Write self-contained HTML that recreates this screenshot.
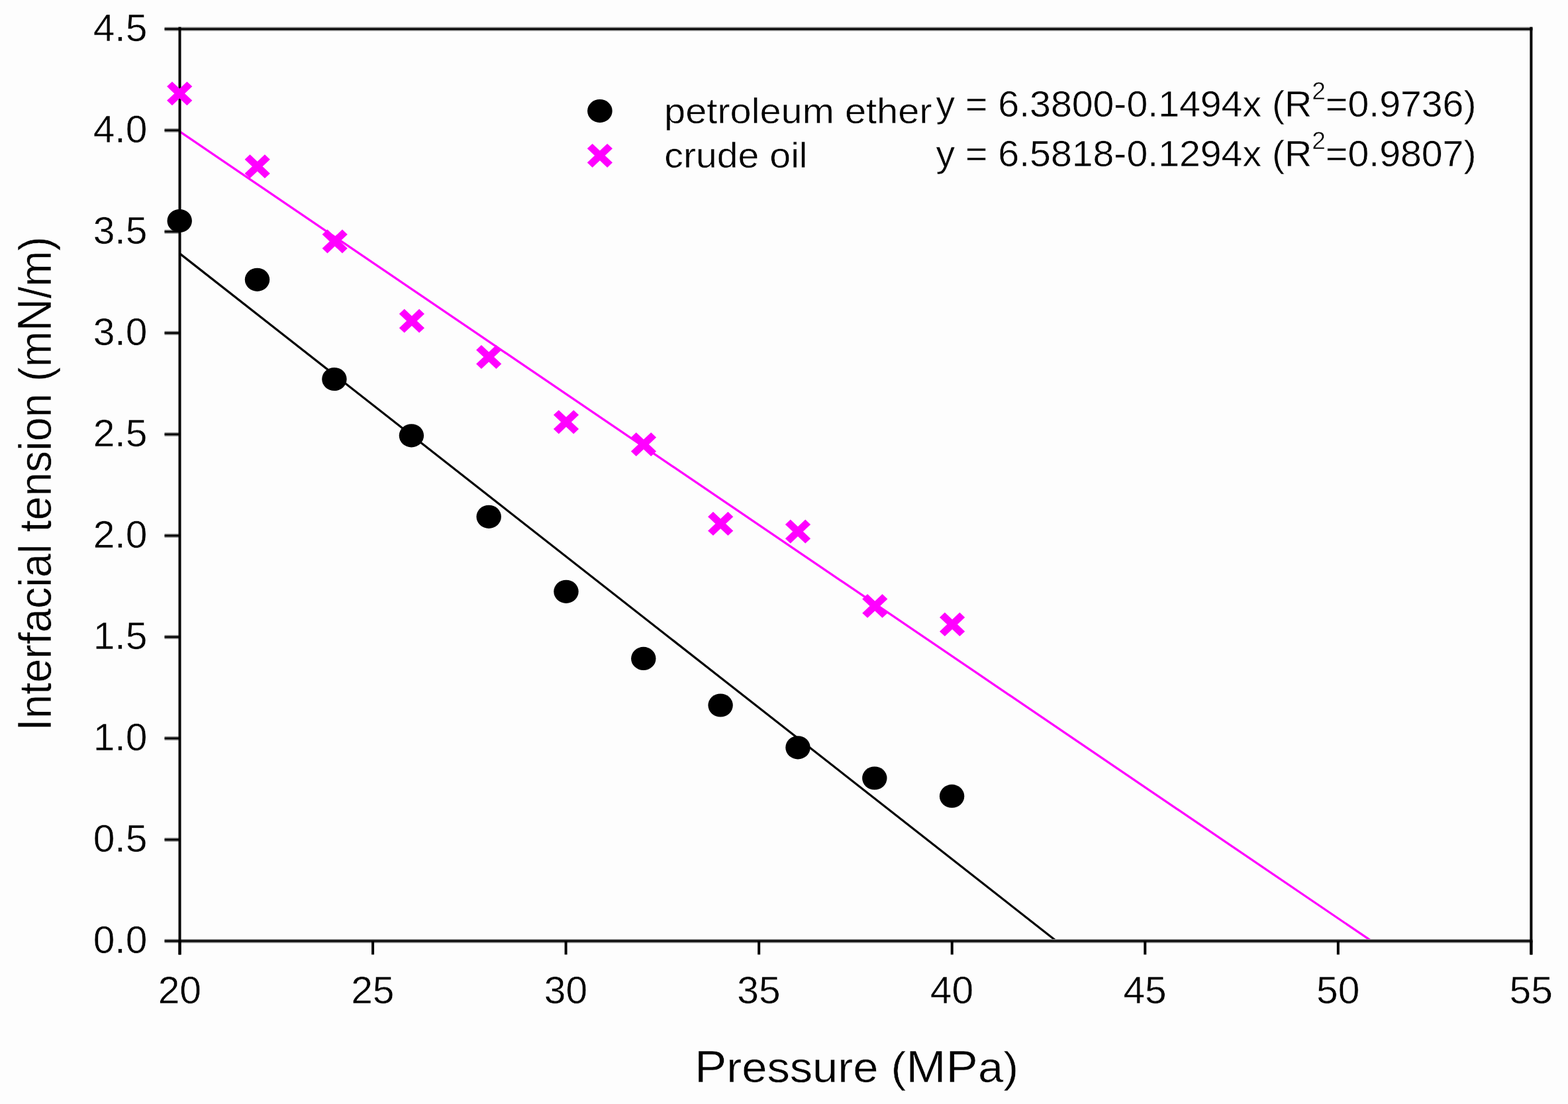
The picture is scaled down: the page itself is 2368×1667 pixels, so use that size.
<!DOCTYPE html>
<html><head><meta charset="utf-8"><title>Interfacial tension vs Pressure</title>
<style>html,body{margin:0;padding:0;background:#fdfdfd;width:2368px;height:1667px;overflow:hidden} svg{display:block}</style>
</head><body>
<svg width="2368" height="1667" viewBox="0 0 2368 1667">
<rect x="0" y="0" width="2368" height="1667" fill="#fdfdfd"/>
<line x1="271.5" y1="382.87" x2="1595.41" y2="1420.9" stroke="#000" stroke-width="3.2"/>
<line x1="271.5" y1="198.71" x2="2071.22" y2="1420.9" stroke="#f0f" stroke-width="3.3"/>
<g fill="none" stroke="#8c8c8c" stroke-width="6">
<line x1="269.50" y1="43.80" x2="2314.40" y2="43.80"/>
<line x1="269.50" y1="1420.90" x2="2314.40" y2="1420.90"/>
<line x1="248.50" y1="1420.90" x2="271.50" y2="1420.90"/>
<line x1="248.50" y1="1267.89" x2="271.50" y2="1267.89"/>
<line x1="248.50" y1="1114.88" x2="271.50" y2="1114.88"/>
<line x1="248.50" y1="961.87" x2="271.50" y2="961.87"/>
<line x1="248.50" y1="808.86" x2="271.50" y2="808.86"/>
<line x1="248.50" y1="655.84" x2="271.50" y2="655.84"/>
<line x1="248.50" y1="502.83" x2="271.50" y2="502.83"/>
<line x1="248.50" y1="349.82" x2="271.50" y2="349.82"/>
<line x1="248.50" y1="196.81" x2="271.50" y2="196.81"/>
<line x1="248.50" y1="43.80" x2="271.50" y2="43.80"/>
</g>
<g fill="none" stroke="#000" stroke-width="2.8">
<line x1="269.50" y1="43.80" x2="2314.40" y2="43.80"/>
<line x1="269.50" y1="1420.90" x2="2314.40" y2="1420.90"/>
<line x1="248.50" y1="1420.90" x2="271.50" y2="1420.90"/>
<line x1="248.50" y1="1267.89" x2="271.50" y2="1267.89"/>
<line x1="248.50" y1="1114.88" x2="271.50" y2="1114.88"/>
<line x1="248.50" y1="961.87" x2="271.50" y2="961.87"/>
<line x1="248.50" y1="808.86" x2="271.50" y2="808.86"/>
<line x1="248.50" y1="655.84" x2="271.50" y2="655.84"/>
<line x1="248.50" y1="502.83" x2="271.50" y2="502.83"/>
<line x1="248.50" y1="349.82" x2="271.50" y2="349.82"/>
<line x1="248.50" y1="196.81" x2="271.50" y2="196.81"/>
<line x1="248.50" y1="43.80" x2="271.50" y2="43.80"/>
</g>
<g stroke="#000" fill="none" stroke-width="4">
<line x1="271.5" y1="40.8" x2="271.5" y2="1441.4"/>
<line x1="2312.4" y1="40.8" x2="2312.4" y2="1441.4"/>
<line x1="271.50" y1="1420.9" x2="271.50" y2="1441.4"/>
<line x1="563.06" y1="1420.9" x2="563.06" y2="1441.4"/>
<line x1="854.61" y1="1420.9" x2="854.61" y2="1441.4"/>
<line x1="1146.17" y1="1420.9" x2="1146.17" y2="1441.4"/>
<line x1="1437.73" y1="1420.9" x2="1437.73" y2="1441.4"/>
<line x1="1729.29" y1="1420.9" x2="1729.29" y2="1441.4"/>
<line x1="2020.84" y1="1420.9" x2="2020.84" y2="1441.4"/>
<line x1="2312.40" y1="1420.9" x2="2312.40" y2="1441.4"/>
</g>
<g font-family="'Liberation Sans', Arial, sans-serif" font-size="56.5" fill="#000" stroke="#fdfdfd" stroke-width="0.5">
<text transform="translate(222.3,1438.70) scale(1.04,1)" text-anchor="end">0.0</text>
<text transform="translate(222.3,1285.69) scale(1.04,1)" text-anchor="end">0.5</text>
<text transform="translate(222.3,1132.68) scale(1.04,1)" text-anchor="end">1.0</text>
<text transform="translate(222.3,979.67) scale(1.04,1)" text-anchor="end">1.5</text>
<text transform="translate(222.3,826.66) scale(1.04,1)" text-anchor="end">2.0</text>
<text transform="translate(222.3,673.64) scale(1.04,1)" text-anchor="end">2.5</text>
<text transform="translate(222.3,520.63) scale(1.04,1)" text-anchor="end">3.0</text>
<text transform="translate(222.3,367.62) scale(1.04,1)" text-anchor="end">3.5</text>
<text transform="translate(222.3,214.61) scale(1.04,1)" text-anchor="end">4.0</text>
<text transform="translate(222.3,61.60) scale(1.04,1)" text-anchor="end">4.5</text>
<text transform="translate(271.30,1514.8) scale(1.04,1)" text-anchor="middle">20</text>
<text transform="translate(562.86,1514.8) scale(1.04,1)" text-anchor="middle">25</text>
<text transform="translate(854.41,1514.8) scale(1.04,1)" text-anchor="middle">30</text>
<text transform="translate(1145.97,1514.8) scale(1.04,1)" text-anchor="middle">35</text>
<text transform="translate(1437.53,1514.8) scale(1.04,1)" text-anchor="middle">40</text>
<text transform="translate(1729.09,1514.8) scale(1.04,1)" text-anchor="middle">45</text>
<text transform="translate(2020.64,1514.8) scale(1.04,1)" text-anchor="middle">50</text>
<text transform="translate(2312.20,1514.8) scale(1.04,1)" text-anchor="middle">55</text>
</g>
<text font-family="'Liberation Sans', Arial, sans-serif" stroke="#fdfdfd" stroke-width="0.5" font-size="65.3" transform="translate(1293.5,1633.9) scale(1.052,1)" text-anchor="middle"><tspan font-size="68.89">P</tspan>ressure (<tspan font-size="68.89">MP</tspan>a)</text>
<text font-family="'Liberation Sans', Arial, sans-serif" stroke="#fdfdfd" stroke-width="0.5" font-size="65.3" transform="translate(77.1,730.5) rotate(-90) scale(0.9946,1.06)" text-anchor="middle"><tspan font-size="68.89">I</tspan>nterfacial tension (m<tspan font-size="68.89">N</tspan>/m)</text>
<path transform="translate(271.20,141.20) scale(1.06,1)" d="M-14.3,-14.3L14.3,14.3M-14.3,14.3L14.3,-14.3" stroke="#f0f" stroke-width="10.5" fill="none"/>
<path transform="translate(388.70,251.30) scale(1.06,1)" d="M-14.3,-14.3L14.3,14.3M-14.3,14.3L14.3,-14.3" stroke="#f0f" stroke-width="10.5" fill="none"/>
<path transform="translate(505.70,364.50) scale(1.06,1)" d="M-14.3,-14.3L14.3,14.3M-14.3,14.3L14.3,-14.3" stroke="#f0f" stroke-width="10.5" fill="none"/>
<path transform="translate(621.90,484.60) scale(1.06,1)" d="M-14.3,-14.3L14.3,14.3M-14.3,14.3L14.3,-14.3" stroke="#f0f" stroke-width="10.5" fill="none"/>
<path transform="translate(738.20,539.00) scale(1.06,1)" d="M-14.3,-14.3L14.3,14.3M-14.3,14.3L14.3,-14.3" stroke="#f0f" stroke-width="10.5" fill="none"/>
<path transform="translate(855.00,637.20) scale(1.06,1)" d="M-14.3,-14.3L14.3,14.3M-14.3,14.3L14.3,-14.3" stroke="#f0f" stroke-width="10.5" fill="none"/>
<path transform="translate(972.00,671.00) scale(1.06,1)" d="M-14.3,-14.3L14.3,14.3M-14.3,14.3L14.3,-14.3" stroke="#f0f" stroke-width="10.5" fill="none"/>
<path transform="translate(1088.20,790.80) scale(1.06,1)" d="M-14.3,-14.3L14.3,14.3M-14.3,14.3L14.3,-14.3" stroke="#f0f" stroke-width="10.5" fill="none"/>
<path transform="translate(1205.00,802.60) scale(1.06,1)" d="M-14.3,-14.3L14.3,14.3M-14.3,14.3L14.3,-14.3" stroke="#f0f" stroke-width="10.5" fill="none"/>
<path transform="translate(1321.30,915.10) scale(1.06,1)" d="M-14.3,-14.3L14.3,14.3M-14.3,14.3L14.3,-14.3" stroke="#f0f" stroke-width="10.5" fill="none"/>
<path transform="translate(1438.10,942.80) scale(1.06,1)" d="M-14.3,-14.3L14.3,14.3M-14.3,14.3L14.3,-14.3" stroke="#f0f" stroke-width="10.5" fill="none"/>
<ellipse cx="271.2" cy="333.5" rx="18.7" ry="17.6" fill="#000"/>
<ellipse cx="388.5" cy="422.3" rx="18.7" ry="17.6" fill="#000"/>
<ellipse cx="504.9" cy="572.5" rx="18.7" ry="17.6" fill="#000"/>
<ellipse cx="621.4" cy="657.8" rx="18.7" ry="17.6" fill="#000"/>
<ellipse cx="738.2" cy="780.3" rx="18.7" ry="17.6" fill="#000"/>
<ellipse cx="855" cy="893.3" rx="18.7" ry="17.6" fill="#000"/>
<ellipse cx="971.8" cy="994.4" rx="18.7" ry="17.6" fill="#000"/>
<ellipse cx="1088.1" cy="1065" rx="18.7" ry="17.6" fill="#000"/>
<ellipse cx="1205" cy="1128.8" rx="18.7" ry="17.6" fill="#000"/>
<ellipse cx="1320.8" cy="1175" rx="18.7" ry="17.6" fill="#000"/>
<ellipse cx="1437.6" cy="1202.2" rx="18.7" ry="17.6" fill="#000"/>
<ellipse cx="905.9" cy="167.6" rx="18.8" ry="17.6" fill="#000"/>
<path transform="translate(905.90,234.90) scale(1.06,1)" d="M-14.3,-14.3L14.3,14.3M-14.3,14.3L14.3,-14.3" stroke="#f0f" stroke-width="10.5" fill="none"/>
<g font-family="'Liberation Sans', Arial, sans-serif" font-size="54" fill="#000" stroke="#fdfdfd" stroke-width="0.5">
<text transform="translate(1003.0,186) scale(1.07,1)">petroleum ether</text>
<text transform="translate(1003.3,253) scale(1.06,1)">crude oil</text>
<text transform="translate(1413.5,176.2) scale(1.06,1.04)">y = 6.3800-0.1494x (R<tspan font-size="35" dy="-25">2</tspan><tspan dy="25">=0.9736)</tspan></text>
<text transform="translate(1413.5,251.2) scale(1.06,1.04)">y = 6.5818-0.1294x (R<tspan font-size="35" dy="-25">2</tspan><tspan dy="25">=0.9807)</tspan></text>
</g>
</svg>
</body></html>
